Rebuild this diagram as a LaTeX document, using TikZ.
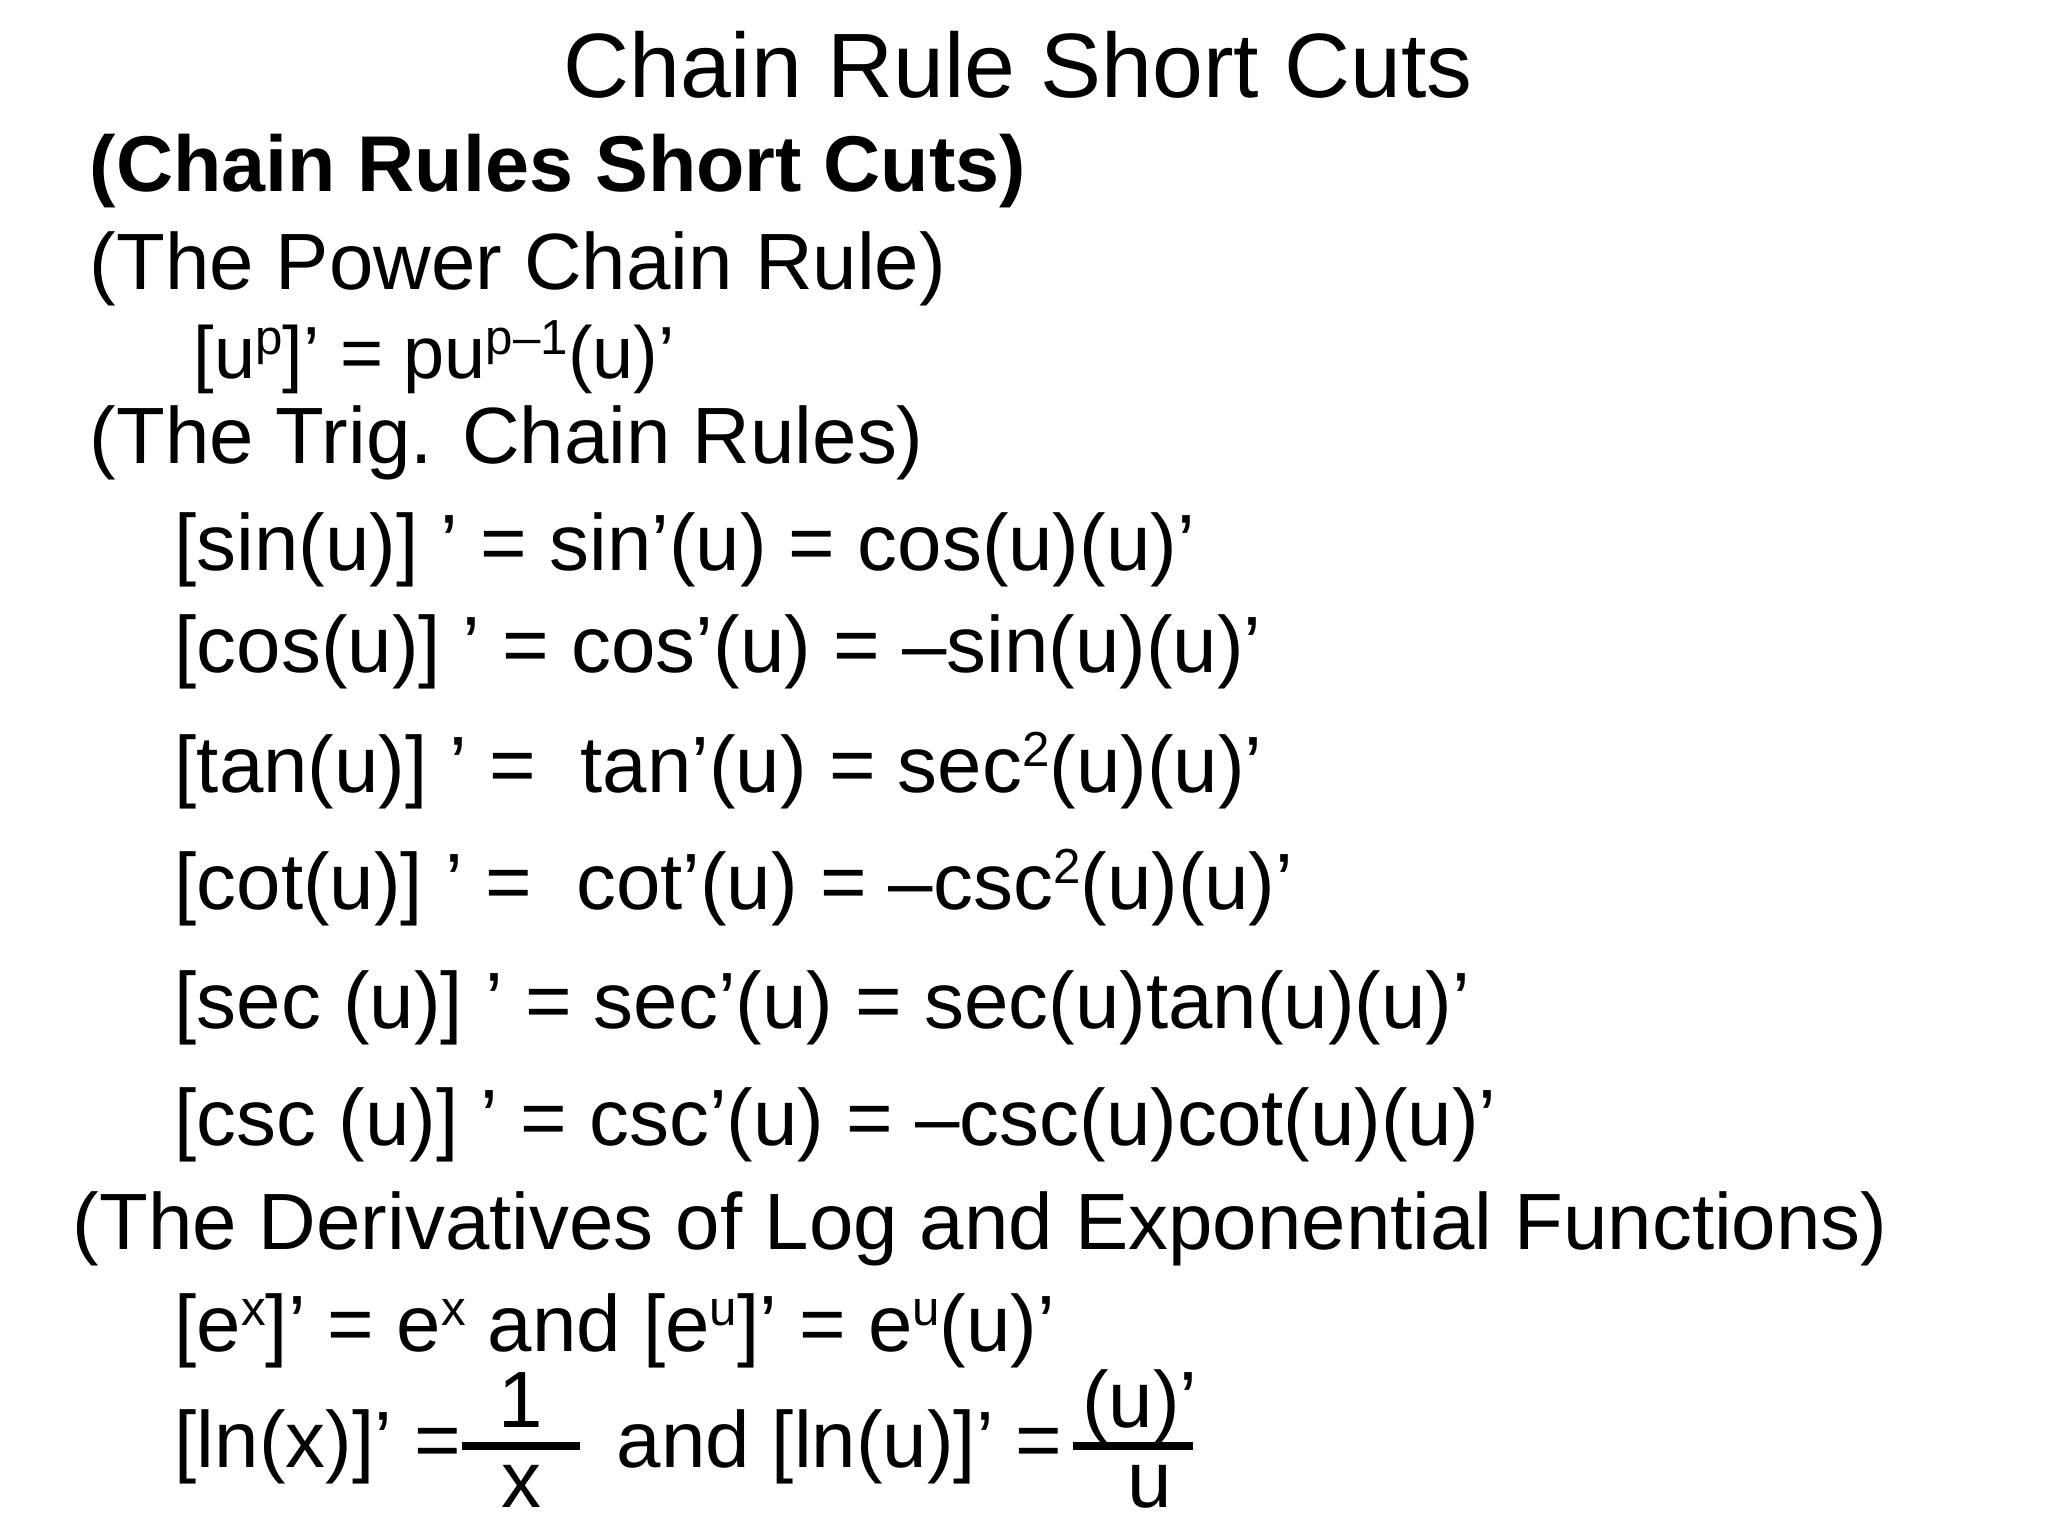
\documentclass[tikz,border=0pt]{standalone}
\usepackage{fontspec}
\setmainfont{Liberation Sans}
\newcommand{\sps}[1]{\raisebox{0.33em}{\fontsize{14pt}{14pt}\selectfont #1}}
\newcommand{\q}{{\char"0027}}
\begin{document}
\begin{tikzpicture}[x=0.01cm,y=0.01cm,
  txt/.style={anchor=base west,inner sep=0,font=\fontsize{22.7pt}{23pt}\selectfont},
  frac/.style={anchor=base,inner sep=0,font=\fontsize{22.7pt}{23pt}\selectfont}]
\useasboundingbox (0,0) rectangle (2048,1536);
\node[anchor=base,inner sep=0,font=\fontsize{26pt}{26pt}\selectfont] (t) at (1018,1438) {Chain Rule Short Cuts};
\node[txt,font=\fontsize{22.5pt}{22pt}\selectfont\bfseries] (b) at (89,1344) {(Chain Rules Short Cuts)};
\node[txt] (p) at (89,1246) {(The Power Chain Rule)};
\node[txt,font=\fontsize{21pt}{21pt}\selectfont] (pu) at (193,1157) {[u\sps{p}]\q{} = pu\sps{p–1}(u)\q};
\node[txt] (tr) at (89,1072) {(The Trig. Chain Rules)};
\node[txt] (s1) at (174,965) {[sin(u)] \q{} = sin\q(u) = cos(u)(u)\q};
\node[txt] (s2) at (174,863) {[cos(u)] \q{} = cos\q(u) = –sin(u)(u)\q};
\node[txt] (s3) at (174,743) {[tan(u)] \q{} =\ \ tan\q(u) = sec\sps{2}(u)(u)\q};
\node[txt] (s4) at (174,626) {[cot(u)] \q{} =\ \ cot\q(u) = –csc\sps{2}(u)(u)\q};
\node[txt] (s5) at (174,507) {[sec (u)] \q{} = sec\q(u) = sec(u)tan(u)(u)\q};
\node[txt] (s6) at (174,390) {[csc (u)] \q{} = csc\q(u) = –csc(u)cot(u)(u)\q};
\node[txt] (d) at (72,286) {(The Derivatives of Log and Exponential Functions)};
\node[txt] (e) at (174,184) {[e\sps{x}]\q{} = e\sps{x} and [e\sps{u}]\q{} = e\sps{u}(u)\q};
\node[txt] (l1) at (174,68) {[ln(x)]\q{} =};
\coordinate (a1) at (462,90); \coordinate (a2) at (580,90);
\draw[line width=2.5pt] (a1) -- (a2);
\node[frac] (n1) at (521,108) {1};
\node[frac] (x1) at (521,28) {x};
\node[txt] (l2) at (616,68) {and [ln(u)]\q{} =};
\coordinate (b1) at (1073,90); \coordinate (b2) at (1193,90);
\draw[line width=2.5pt] (b1) -- (b2);
\node[frac] (n2) at (1140,108) {(u)\q};
\node[frac] (x2) at (1150,28) {u};
\end{tikzpicture}
\end{document}
